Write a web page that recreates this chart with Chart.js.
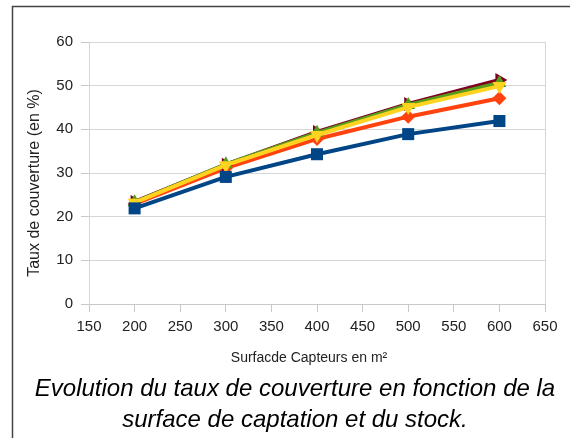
<!DOCTYPE html>
<html>
<head>
<meta charset="utf-8">
<script src="https://cdn.jsdelivr.net/npm/chart.js@4/dist/chart.umd.min.js"></script>
<style>
  html, body { margin: 0; padding: 0; background: #fff; }
  #wrap { width: 570px; height: 438px; position: relative; }
</style>
</head>
<body>
<div id="wrap"><canvas id="c" width="570" height="438"></canvas></div>
<script>
// Surface of solar collectors (m²)
const surfaces = [200, 300, 400, 500, 600];

// Coverage rate (%) for each storage configuration
const serie1 = [21.9, 29.1, 34.3, 38.9, 41.9];
const serie2 = [22.9, 31.1, 37.8, 42.9, 47.1];
const serie3 = [23.2, 31.8, 38.7, 45.1, 49.9];
const serie4 = [23.3, 32.0, 39.2, 45.6, 50.6];
const serie5 = [23.4, 31.9, 39.4, 45.8, 51.3];

const xTicks = [150, 200, 250, 300, 350, 400, 450, 500, 550, 600, 650];
const yTicks = [0, 10, 20, 30, 40, 50, 60];

const xTitle = 'Surfacde Capteurs en m²';
const yTitle = 'Taux de couverture (en %)';
const caption = ['Evolution du taux de couverture en fonction de la',
                 'surface de captation et du stock.'];

const FONT = '"Liberation Sans", Arial, sans-serif';

function pts(values) {
  return surfaces.map((x, i) => ({ x: x, y: values[i] }));
}

function series(values, color, style, rotation, radius, order) {
  return {
    data: pts(values),
    borderColor: color,
    backgroundColor: color,
    borderWidth: 4,
    pointStyle: style,
    pointRotation: rotation,
    pointRadius: radius,
    pointBorderWidth: 0,
    pointBackgroundColor: color,
    order: order,
    tension: 0
  };
}

// frame, axis titles and two-line caption
const decorations = {
  id: 'decorations',
  beforeDraw(chart) {
    const ctx = chart.ctx;
    ctx.save();
    ctx.fillStyle = '#fff';
    ctx.fillRect(0, 0, chart.width, chart.height);
    ctx.strokeStyle = '#444';
    ctx.lineWidth = 1.5;
    ctx.beginPath();
    ctx.moveTo(12.5, chart.height);
    ctx.lineTo(12.5, 6.5);
    ctx.lineTo(chart.width, 6.5);
    ctx.stroke();
    ctx.restore();
  },
  afterDraw(chart) {
    const ctx = chart.ctx;
    ctx.save();
    ctx.fillStyle = '#222';
    ctx.font = '16px ' + FONT;
    ctx.textAlign = 'center';
    ctx.textBaseline = 'middle';
    ctx.translate(35, 183);
    ctx.rotate(-Math.PI / 2);
    ctx.fillText(yTitle, 0, 0);
    ctx.restore();

    ctx.save();
    ctx.fillStyle = '#222';
    ctx.font = '14px ' + FONT;
    ctx.textAlign = 'center';
    ctx.textBaseline = 'middle';
    ctx.fillText(xTitle, 309, 358);
    ctx.restore();

    ctx.save();
    ctx.fillStyle = '#000';
    ctx.font = 'italic 24px ' + FONT;
    ctx.textAlign = 'center';
    ctx.textBaseline = 'middle';
    ctx.fillText(caption[0], 295, 389);
    ctx.fillText(caption[1], 295, 420);
    ctx.restore();
  }
};

new Chart(document.getElementById('c'), {
  type: 'line',
  data: {
    datasets: [
      series(serie1, '#004586', 'rect', 0, 8.5, 0),
      series(serie2, '#ff420e', 'rectRot', 0, 7, 5),
      series(serie5, '#7e0021', 'triangle', 90, 8, 4),
      series(serie4, '#579d1c', 'triangle', 0, 8, 3),
      series(serie3, '#ffd320', 'triangle', 180, 8, 2)
    ]
  },
  options: {
    responsive: false,
    animation: false,
    events: [],
    layout: { padding: { left: 12, right: 25, top: 42, bottom: 64 } },
    plugins: { legend: { display: false }, tooltip: { enabled: false } },
    scales: {
      x: {
        type: 'linear',
        min: 150,
        max: 650,
        afterBuildTicks(scale) { scale.ticks = xTicks.map(v => ({ value: v })); },
        afterFit(scale) { scale.height = 70; },
        ticks: { font: { family: FONT, size: 15 }, color: '#222', padding: 6, maxRotation: 0, autoSkip: false },
        grid: {
          color: ctx => (ctx.tick && (ctx.tick.value === 150 || ctx.tick.value === 650)) ? '#d6d6d6' : 'rgba(0,0,0,0)',
          tickColor: '#c8c8c8',
          tickLength: 8,
          lineWidth: 1
        },
        border: { color: '#c8c8c8' }
      },
      y: {
        min: 0,
        max: 60,
        afterBuildTicks(scale) { scale.ticks = yTicks.map(v => ({ value: v })); },
        afterFit(scale) { scale.width = 77; },
        ticks: { font: { family: FONT, size: 15 }, color: '#222', padding: 8 },
        grid: { color: '#d6d6d6', tickColor: '#c8c8c8', tickLength: 8, lineWidth: 1 },
        border: { color: '#d6d6d6' }
      }
    }
  },
  plugins: [decorations]
});
</script>
</body>
</html>
